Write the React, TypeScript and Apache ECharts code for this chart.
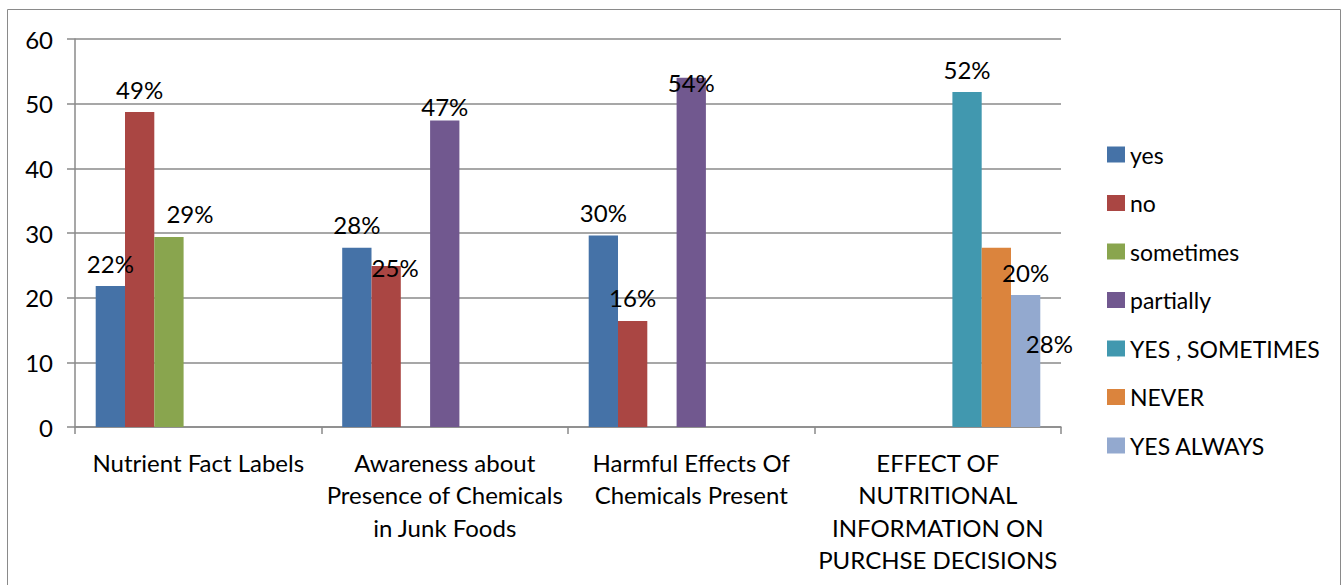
import React, { useEffect, useRef } from "react";
import * as echarts from "echarts";

// Survey topics (x-axis categories)
const categories = [
  "Nutrient Fact Labels",
  "Awareness about\nPresence of Chemicals\nin Junk Foods",
  "Harmful Effects Of\nChemicals Present",
  "EFFECT OF\nNUTRITIONAL\nINFORMATION ON\nPURCHSE DECISIONS",
];

// Response shares per answer option (percent), null where the option was not asked
const yesValues = [21.8, 27.7, 29.6, null];
const noValues = [48.7, 24.9, 16.4, null];
const sometimesValues = [29.4, null, null, null];
const partiallyValues = [null, 47.4, 54.0, null];
const yesSometimesValues = [null, null, null, 51.8];
const neverValues = [null, null, null, 27.7];
const yesAlwaysValues = [null, null, null, 20.4];

const yTicks = { min: 0, max: 60, interval: 10 };

const seriesDefs = [
  { name: "yes", data: yesValues, color: "#4572A7" },
  { name: "no", data: noValues, color: "#AA4643" },
  { name: "sometimes", data: sometimesValues, color: "#89A54E" },
  { name: "partially", data: partiallyValues, color: "#71588F" },
  { name: "YES , SOMETIMES", data: yesSometimesValues, color: "#4198AF" },
  { name: "NEVER", data: neverValues, color: "#DB843D" },
  { name: "YES ALWAYS", data: yesAlwaysValues, color: "#93A9CF" },
];

// Hand-placed value labels: [dx, dy] shifts keyed by series name and category index
const labelNudges: Record<string, Record<number, [number, number]>> = {
  sometimes: { 0: [21, 0] },
  no: { 1: [9, 25] },
  partially: { 1: [0, 9], 2: [0, 28] },
  NEVER: { 3: [53, 119] },
};

const FONT = "Lato, 'Noto Sans', sans-serif";
const FS = 24;
const GRAY = "#8a8a8a";

export default function App() {
  const ref = useRef<HTMLDivElement>(null);

  useEffect(() => {
    if (!ref.current) return;
    const chart = echarts.init(ref.current, undefined, { renderer: "svg" });

    const series = seriesDefs.map((s) => ({
      name: s.name,
      type: "bar",
      barGap: "0%",
      barCategoryGap: "16.8%",
      itemStyle: { color: s.color },
      label: {
        show: true,
        position: "top",
        distance: 11,
        color: "#000",
        fontFamily: FONT,
        fontSize: FS,
        formatter: (p: any) => Math.round(p.value) + "%",
      },
      data: s.data.map((v, i) => {
        const nudge = labelNudges[s.name]?.[i];
        if (v === null) return null;
        return nudge ? { value: v, label: { offset: nudge } } : v;
      }),
    }));

    chart.setOption({
      animation: false,
      backgroundColor: "#fff",
      textStyle: { fontFamily: FONT },
      graphic: [
        {
          type: "rect",
          shape: { x: 7.5, y: 9.5, width: 1333, height: 600 },
          style: { fill: "none", stroke: GRAY, lineWidth: 1 },
          silent: true,
        },
      ],
      grid: { left: 75, right: 282, top: 39, bottom: 158, containLabel: false },
      legend: {
        orient: "vertical",
        left: 1102,
        top: 138,
        icon: "rect",
        itemWidth: 18,
        itemHeight: 16,
        itemGap: 25.5,
        itemTextGap: 3,
        textStyle: { fontFamily: FONT, fontSize: 23, color: "#000", lineHeight: 22 },
        data: seriesDefs.map((s) => s.name),
      },
      xAxis: {
        type: "category",
        data: categories,
        axisLine: { show: true, lineStyle: { color: GRAY, width: 1.5 } },
        axisTick: { show: true, length: 7, lineStyle: { color: GRAY, width: 1.5 } },
        axisLabel: {
          interval: 0,
          margin: 19,
          color: "#000",
          fontFamily: FONT,
          fontSize: FS,
          lineHeight: 32.5,
          align: "center",
        },
      },
      yAxis: {
        type: "value",
        min: yTicks.min,
        max: yTicks.max,
        interval: yTicks.interval,
        axisLine: { show: true, lineStyle: { color: GRAY, width: 1.5 } },
        axisTick: { show: true, length: 8, lineStyle: { color: GRAY, width: 1.5 } },
        splitLine: { show: true, lineStyle: { color: GRAY, width: 1.5 } },
        axisLabel: { margin: 22, color: "#000", fontFamily: FONT, fontSize: FS },
      },
      series,
    });

    return () => chart.dispose();
  }, []);

  return (
    <div
      ref={ref}
      style={{ position: "fixed", left: 0, top: 0, width: 1343, height: 585 }}
    />
  );
}
